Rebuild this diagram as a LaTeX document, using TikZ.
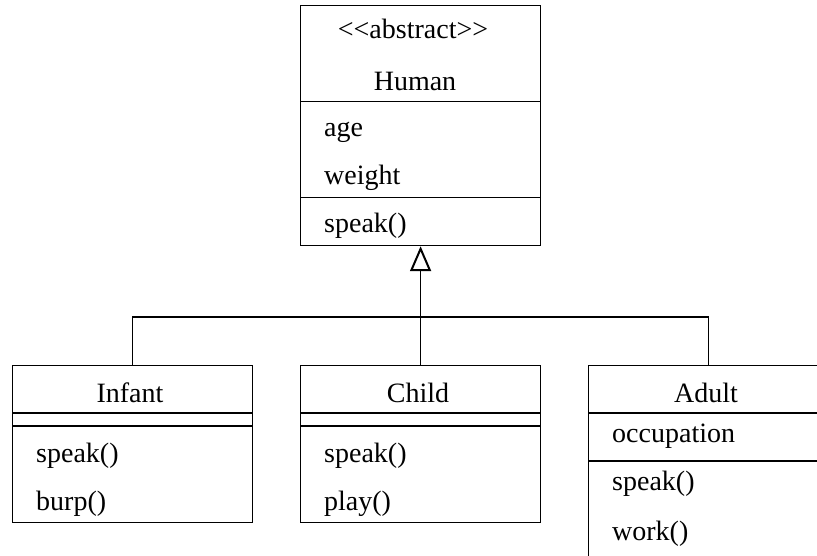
\documentclass[tikz,border=0pt]{standalone}
\usepackage{fontspec}
\setmainfont{Liberation Serif}
\usetikzlibrary{arrows.meta}
\begin{document}
\begin{tikzpicture}[x=1pt,y=-1pt,
  classbox/.style={draw, line width=1.2pt, rectangle, minimum width=240pt, inner sep=0pt, anchor=north west},
  member/.style={anchor=base west, inner sep=0pt, font=\fontsize{28}{32}\selectfont},
  ctitle/.style={anchor=base, inner sep=0pt, font=\fontsize{28}{32}\selectfont},
  divider/.style={line width=1.2pt},
  link/.style={line width=1.2pt},
  inherit/.style={-{Triangle[open,length=25pt,width=21pt,line width=2pt]}}
]
\useasboundingbox (0,0) rectangle (817,556);
\clip (0,0) rectangle (817,556);

% abstract base class
\node[classbox, minimum height=240pt] (human) at (300,5) {};
\draw[divider] (300,101.5) -- (540,101.5);
\draw[divider] (300,197.5) -- (540,197.5);
\node[ctitle] (humanstereo) at (413,39) {<\kern0pt<abstract>\kern0pt>};
\node[ctitle] (humanname) at (415,91) {Human};
\node[member] (humanage) at (324,137) {age};
\node[member] (humanweight) at (324,185) {weight};
\node[member] (humanspeak) at (324,233) {speak()};

% Infant
\node[classbox, minimum height=157pt] (infant) at (12,365) {};
\draw[divider] (12,413) -- (252,413);
\draw[divider] (12,426) -- (252,426);
\node[ctitle] (infantname) at (130,402) {Infant};
\node[member] (infantspeak) at (36,462) {speak()};
\node[member] (infantburp) at (36,510) {burp()};

% Child
\node[classbox, minimum height=157pt] (child) at (300,365) {};
\draw[divider] (300,413) -- (540,413);
\draw[divider] (300,426) -- (540,426);
\node[ctitle] (childname) at (418,402) {Child};
\node[member] (childspeak) at (324,462) {speak()};
\node[member] (childplay) at (324,510) {play()};

% Adult
\node[classbox, minimum height=215pt] (adult) at (588,365) {};
\draw[divider] (588,413) -- (828,413);
\draw[divider] (588,461) -- (828,461);
\node[ctitle] (adultname) at (706,402) {Adult};
\node[member] (adultocc) at (612,442) {occupation};
\node[member] (adultspeak) at (612,490) {speak()};
\node[member] (adultwork) at (612,540) {work()};

% generalization tree
\coordinate (junction) at (420,317);
\draw[link, inherit] (child.north) -- (human.south);
\draw[link] (infant.north) |- (junction);
\draw[link] (adult.north) |- (junction);
\end{tikzpicture}
\end{document}
